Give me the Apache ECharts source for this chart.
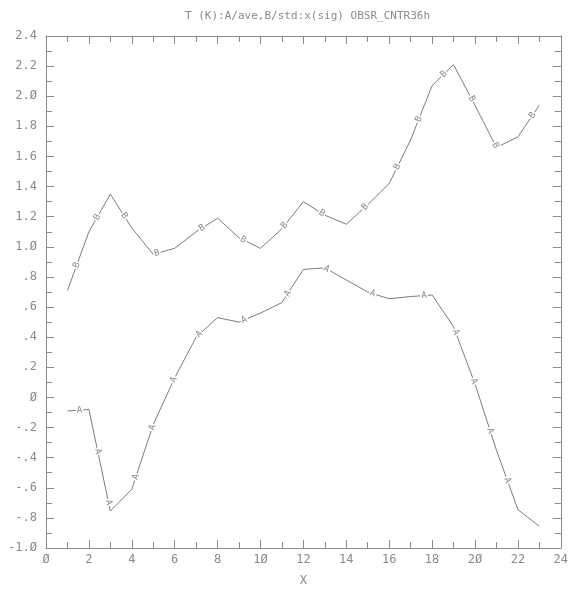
<!DOCTYPE html>
<html>
<head>
<meta charset="utf-8">
<script src="https://cdn.jsdelivr.net/npm/echarts@6/dist/echarts.min.js"></script>
<style>
  html, body { margin: 0; padding: 0; background: #fff; }
  #chart { width: 571px; height: 592px; }
</style>
</head>
<body>
<div id="chart"></div>
<script>
// x positions (sig)
var xVals = [1, 2, 3, 4, 5, 6, 7, 8, 9, 10, 11, 12, 13, 14, 15, 16, 17, 18, 19, 20, 21, 22, 23];
// A = ave
var aAve = [-0.09, -0.08, -0.755, -0.61, -0.18, 0.13, 0.40, 0.53, 0.50, 0.56, 0.63, 0.85,
  0.86, 0.78, 0.70, 0.655, 0.67, 0.68, 0.47, 0.09, -0.35, -0.745, -0.855];
// B = std
var bStd = [0.71, 1.10, 1.35, 1.125, 0.95, 0.99, 1.10, 1.19, 1.06, 0.99, 1.12, 1.30,
  1.21, 1.15, 1.28, 1.42, 1.71, 2.07, 2.21, 1.94, 1.66, 1.73, 1.94];

var xTickLabels = ["Ø", "2", "4", "6", "8", "1Ø", "12", "14", "16", "18", "2Ø", "22", "24"];
var yTickLabels = ["-1.Ø", "-.8", "-.6", "-.4", "-.2", "Ø", ".2", ".4", ".6", ".8", "1.Ø",
  "1.2", "1.4", "1.6", "1.8", "2.Ø", "2.2", "2.4"];

var gray = "#8a8a8a";
var lineGray = "#7c7c7c";
var mono = "DejaVu Sans Mono";

function pairs(ys) {
  return xVals.map(function (x, i) { return [x, ys[i]]; });
}

var myChart = echarts.init(document.getElementById("chart"));

function axisBase() {
  return {
    type: "value",
    axisLine: { show: true, onZero: false, lineStyle: { color: gray, width: 1 } },
    axisTick: { show: true, inside: true, length: 8, lineStyle: { color: gray } },
    minorTick: { show: true, splitNumber: 2, length: 6, lineStyle: { color: gray } },
    splitLine: { show: false },
    minorSplitLine: { show: false },
  };
}

var xBottom = Object.assign(axisBase(), {
  min: 0, max: 24, interval: 2, position: "bottom",
  name: "X", nameLocation: "middle", nameGap: 27,
  nameTextStyle: { color: gray, fontFamily: mono, fontSize: 12 },
  axisLabel: {
    color: gray, fontFamily: mono, fontSize: 12, margin: 6,
    formatter: function (v) { return xTickLabels[Math.round(v / 2)]; },
  },
});
var xTop = Object.assign(axisBase(), {
  min: 0, max: 24, interval: 2, position: "top", axisLabel: { show: false },
});
var yLeft = Object.assign(axisBase(), {
  min: -1, max: 2.4, interval: 0.2, position: "left",
  axisLabel: {
    color: gray, fontFamily: mono, fontSize: 12, margin: 9,
    formatter: function (v) { return yTickLabels[Math.round((v + 1) * 5)]; },
  },
});
var yRight = Object.assign(axisBase(), {
  min: -1, max: 2.4, interval: 0.2, position: "right", axisLabel: { show: false },
});

var option = {
  animation: false,
  backgroundColor: "#fff",
  title: {
    text: "T (K):A/ave,B/std:x(sig) OBSR_CNTR36h",
    left: 180, top: 6,
    textStyle: { color: gray, fontFamily: mono, fontSize: 11, fontWeight: "normal" },
  },
  grid: { left: 46, right: 8, top: 36, bottom: 40 },
  xAxis: [xBottom, xTop],
  yAxis: [yLeft, yRight],
  series: [
    {
      name: "A", type: "line", data: pairs(aAve), showSymbol: false,
      lineStyle: { color: lineGray, width: 1 },
    },
    {
      name: "B", type: "line", data: pairs(bStd), showSymbol: false,
      lineStyle: { color: lineGray, width: 1 },
    },
  ],
};
myChart.setOption(option);

// inline letters along each curve, spaced by arc length in pixels
function lineLabels(ys, letter, start, step) {
  var pts = pairs(ys).map(function (p) {
    return myChart.convertToPixel({ xAxisIndex: 0, yAxisIndex: 0 }, p);
  });
  var total = 0, segs = [];
  for (var i = 1; i < pts.length; i++) {
    var dx = pts[i][0] - pts[i - 1][0], dy = pts[i][1] - pts[i - 1][1];
    var len = Math.sqrt(dx * dx + dy * dy);
    segs.push({ p: pts[i - 1], dx: dx, dy: dy, len: len, s0: total });
    total += len;
  }
  var out = [];
  for (var s = start; s < total - 8; s += step) {
    var seg = segs.find(function (g) { return s >= g.s0 && s <= g.s0 + g.len; });
    var t = (s - seg.s0) / seg.len;
    out.push({
      type: "text",
      x: seg.p[0] + seg.dx * t,
      y: seg.p[1] + seg.dy * t,
      rotation: Math.atan2(-seg.dy, seg.dx),
      z: 100,
      style: {
        text: letter, align: "center", verticalAlign: "middle",
        font: "9px " + mono, fill: gray,
        backgroundColor: "#fff", padding: [0, 1],
      },
    });
  }
  return out;
}

myChart.setOption({
  graphic: lineLabels(aAve, "A", 12, 52.3).concat(lineLabels(bStd, "B", 27, 52.3)),
});

window.onresize = function () {
  myChart.resize();
};
</script>
</body>
</html>
